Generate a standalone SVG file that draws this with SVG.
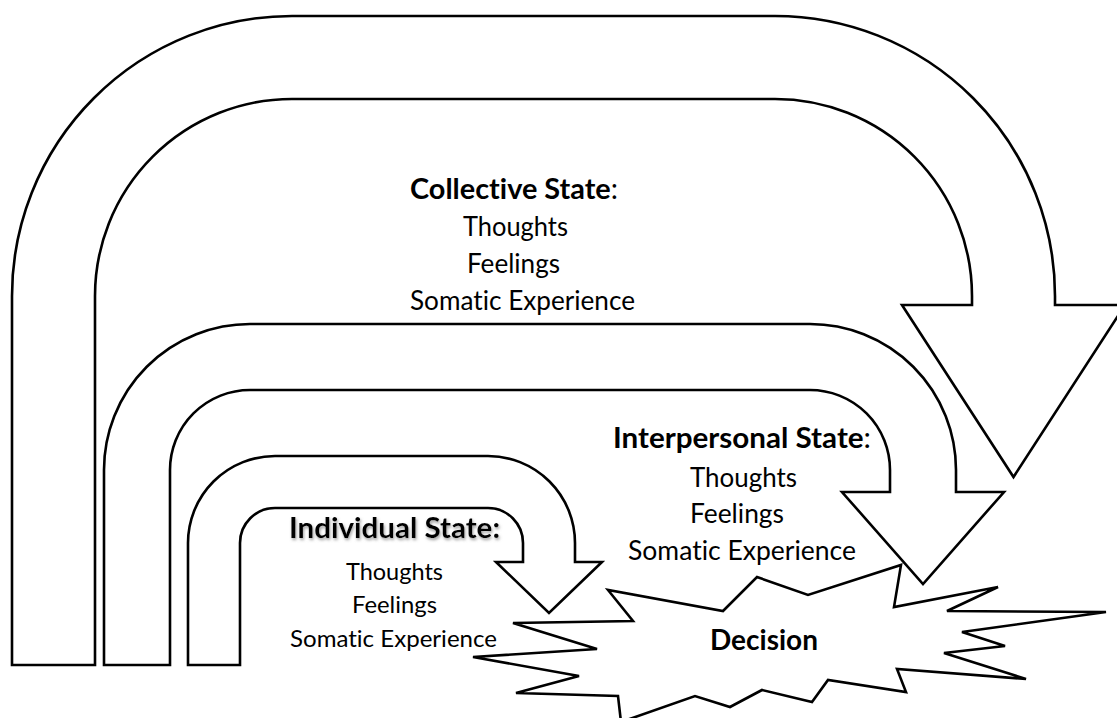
<svg xmlns="http://www.w3.org/2000/svg" width="1117" height="718" viewBox="0 0 1117 718">
  <defs>
    <style>
      .shape { fill: #ffffff; stroke: #000000; stroke-width: 2.6; stroke-linejoin: miter; }
      .t { font-family: Lato, "Open Sans", "Liberation Sans", sans-serif; fill: #000000; font-variant-ligatures: none; font-feature-settings: "liga" 0, "clig" 0; }
      .reg { font-size: 26px; font-weight: normal; }
      .small { font-size: 24px; font-weight: normal; }
      .hd { font-size: 28px; font-weight: bold; }
    </style>
    <filter id="glow" x="-10%" y="-30%" width="120%" height="160%">
      <feGaussianBlur in="SourceAlpha" stdDeviation="1.6" result="b"/>
      <feOffset in="b" dx="1" dy="1.5" result="o"/>
      <feFlood flood-color="#808080" flood-opacity="0.75"/>
      <feComposite in2="o" operator="in" result="s"/>
      <feMerge>
        <feMergeNode in="s"/>
        <feMergeNode in="SourceGraphic"/>
      </feMerge>
    </filter>
  </defs>
  <rect x="0" y="0" width="1117" height="718" fill="#ffffff"/>

  <g id="connectors">
    <path id="arrow-collective" class="shape" d="M 12,665 L 12,296 A 280 280 0 0 1 292,16 L 775,16 A 280 280 0 0 1 1055,296 L 1055,305 L 1125,305 L 1013.5,477 L 902,305 L 972,305 L 972,296 A 197 197 0 0 0 775,99 L 292,99 A 197 197 0 0 0 95,296 L 95,665 Z"/>
    <path id="arrow-interpersonal" class="shape" d="M 104,665 L 104,470 A 146 146 0 0 1 250,324 L 810,324 A 146 146 0 0 1 956,470 L 956,492 L 1004,492 L 923,584 L 842,492 L 890,492 L 890,470 A 80 80 0 0 0 810,390 L 250,390 A 80 80 0 0 0 170,470 L 170,665 Z"/>
    <path id="arrow-individual" class="shape" d="M 188,665 L 188,543 A 87 87 0 0 1 275,456 L 488,456 A 87 87 0 0 1 575,543 L 575,562 L 602,562 L 549,613 L 496,562 L 523,562 L 523,543 A 35 35 0 0 0 488,508 L 275,508 A 35 35 0 0 0 240,543 L 240,665 Z"/>
  </g>

  <g id="node-decision">
    <polygon class="shape" points="513,623 633,621 608,590 723,611 757,577 808,595 901,565 894,607 998,587 947,611 1106,612 962,632 1005,646 944,653 1026,679 897,669 906,692 828,680 812,702 762,690 730,707 695,696 621,722 618,696 516,693 579,676 473,657 597,649"/>
    <text class="t hd" x="710" y="650" textLength="108" lengthAdjust="spacingAndGlyphs">Decision</text>
  </g>

  <g id="node-collective">
    <text class="t hd" x="410" y="199" textLength="208" lengthAdjust="spacingAndGlyphs">Collective State<tspan font-weight="normal">:</tspan></text>
    <text class="t reg" x="463" y="236" textLength="105" lengthAdjust="spacingAndGlyphs">Thoughts</text>
    <text class="t reg" x="467" y="273" textLength="93" lengthAdjust="spacingAndGlyphs">Feelings</text>
    <text class="t reg" x="410" y="310" textLength="225" lengthAdjust="spacingAndGlyphs">Somatic Experience</text>
  </g>

  <g id="node-interpersonal">
    <text class="t hd" x="613" y="448" textLength="258" lengthAdjust="spacingAndGlyphs">Interpersonal State<tspan font-weight="normal">:</tspan></text>
    <text class="t reg" x="690" y="487" textLength="107" lengthAdjust="spacingAndGlyphs">Thoughts</text>
    <text class="t reg" x="690" y="523" textLength="94" lengthAdjust="spacingAndGlyphs">Feelings</text>
    <text class="t reg" x="628" y="560" textLength="228" lengthAdjust="spacingAndGlyphs">Somatic Experience</text>
  </g>

  <g id="node-individual">
    <text class="t hd" x="289" y="538" textLength="211" lengthAdjust="spacingAndGlyphs" filter="url(#glow)">Individual State:</text>
    <text class="t small" x="346" y="580" textLength="97" lengthAdjust="spacingAndGlyphs">Thoughts</text>
    <text class="t small" x="352" y="613" textLength="85" lengthAdjust="spacingAndGlyphs">Feelings</text>
    <text class="t small" x="290" y="647" textLength="207" lengthAdjust="spacingAndGlyphs">Somatic Experience</text>
  </g>
</svg>
